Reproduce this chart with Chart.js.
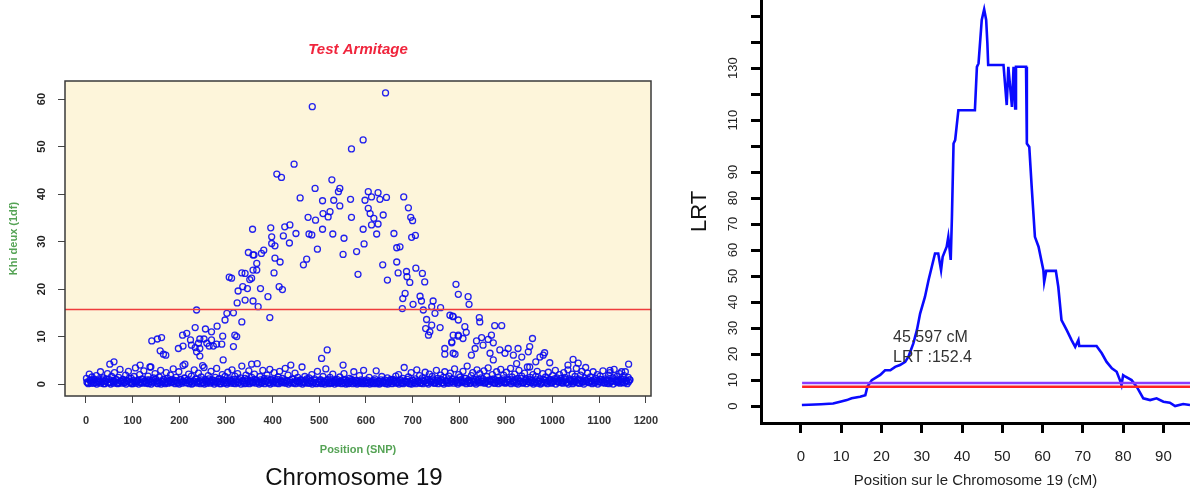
<!DOCTYPE html>
<html>
<head>
<meta charset="utf-8">
<script src="https://cdn.jsdelivr.net/npm/chart.js@4.4.1/dist/chart.umd.min.js"></script>
<style>
  html, body { margin: 0; padding: 0; background: #fff; }
  body { width: 1190px; height: 493px; position: relative; overflow: hidden; font-family: "Liberation Sans", Arial, sans-serif; }
  #leftBox { position: absolute; left: 0; top: 0; width: 680px; height: 493px; }
  #rightBox { position: absolute; left: 680px; top: 0; width: 510px; height: 493px; }
  #chromLabel { position: absolute; left: 254px; width: 200px; top: 463px; line-height: 28px; text-align: center; font-size: 24px; color: #111; }
</style>
</head>
<body>
<div id="leftBox"><canvas id="armitageChart" width="680" height="493"></canvas></div>
<div id="rightBox"><canvas id="lrtChart" width="510" height="493"></canvas></div>
<div id="chromLabel">Chromosome 19</div>
<script>
// --- left panel: Armitage test, one khi-deux value per SNP ---
// background SNPs, sampled every 3 SNPs starting at 1 (upper part of the band)
const baseStart = 1, baseStep = 3;
const baseKhi = [
  1.2,0.3,2.1,0.8,1.5,0.2,0.9,1.8,0.4,1.1,2.6,0.5,1.3,0.1,0.7,2.2,1.0,0.3,1.6,0.6,
  2.4,0.9,0.2,1.4,3.1,0.6,1.0,0.3,1.9,0.8,2.7,0.4,1.2,0.1,1.6,3.4,0.5,0.9,2.0,0.3,
  1.1,2.8,0.6,0.2,1.7,0.9,3.6,0.4,1.3,2.2,0.7,0.1,1.5,2.9,0.5,1.0,0.3,2.4,1.2,0.6,
  1.9,0.4,3.2,0.8,1.4,0.2,2.6,1.0,0.5,3.9,1.3,0.3,0.8,2.1,0.6,1.7,0.2,3.0,1.1,0.4,
  2.3,0.7,1.5,0.3,3.5,1.0,0.2,1.8,0.6,2.7,0.9,0.4,1.4,3.3,0.5,1.2,0.1,2.0,0.8,1.6,
  0.3,2.5,1.1,0.6,3.0,0.2,1.7,0.9,2.2,0.4,1.3,3.8,0.7,0.1,1.9,1.0,2.8,0.5,1.4,0.3,
  2.1,0.8,4.3,0.4,1.6,0.2,2.9,1.2,0.6,1.9,0.3,3.1,1.0,0.5,2.4,0.9,0.2,1.5,2.7,0.6,
  1.2,0.3,3.3,0.8,1.9,0.4,4.0,1.1,0.2,2.3,0.7,1.4,0.5,0.9,3.6,0.3,1.6,0.8,0.2,1.3,
  0.6,2.0,0.3,1.1,0.2,2.7,0.5,0.9,0.1,1.6,0.4,3.2,0.8,0.3,1.4,0.2,2.1,0.7,0.4,1.0,
  0.3,1.5,0.6,0.2,2.2,0.9,0.4,0.1,1.2,0.5,0.8,2.6,0.3,0.7,0.2,1.8,0.5,0.1,2.9,0.6,
  0.9,0.2,1.4,0.4,0.7,0.1,1.1,2.8,0.3,0.6,0.2,1.6,0.5,0.9,0.1,1.3,0.4,0.8,0.2,1.0,
  0.5,1.7,0.3,2.0,0.7,0.2,1.2,3.5,0.6,0.4,1.5,0.1,2.4,0.8,0.3,1.1,3.0,0.5,1.8,0.2,
  1.3,0.6,2.5,0.3,1.0,2.1,0.4,1.6,0.8,0.2,2.9,1.2,0.5,1.9,0.3,1.4,2.6,0.7,0.2,1.7,
  2.3,0.5,1.1,3.2,0.8,0.3,2.0,1.5,0.6,2.7,0.4,1.2,3.8,0.9,0.2,1.8,2.4,0.6,1.0,3.0,
  0.4,2.2,1.3,0.7,2.8,0.3,1.6,3.4,0.9,0.5,2.0,1.1,0.2,2.6,1.4,0.6,3.1,0.8,1.9,0.3,
  2.5,1.0,0.4,3.3,1.5,0.7,2.1,0.2,1.2,2.9,0.6,1.7,0.3,2.3,1.1,3.6,0.5,1.4,0.8,2.0,
  0.3,1.6,2.7,0.6,1.1,0.2,2.2,0.9,1.5,0.4,2.5,1.0,0.3,1.8,0.7,2.9,1.3,0.5,2.0,1.2,
  0.6,2.4,1.4,0.3,3.0,1.1,0.7,2.1,0.4,1.6,3.3,0.9,0.2,1.9,2.7,0.5,1.3,0.8,2.3,0.4,
  1.5,0.7,2.6,0.3,1.2,2.0,0.5,1.7,0.9,2.8,0.4,1.1,0.2,1.9,2.4,0.6,1.3,3.1,0.8,1.6,
  0.5,2.2,1.0,0.3,1.8,2.6,0.7,1.4,0.9
];
// background SNPs, sampled every 3 SNPs starting at 2 (dense floor of the band)
const floorStart = 2, floorStep = 3;
const floorKhi = [
  0.4,0.1,0.8,0.2,0.6,1.0,0.3,0.0,0.7,0.5,0.2,0.9,0.1,0.6,1.1,0.3,0.4,0.0,0.8,0.2,
  0.5,1.0,0.1,0.3,0.7,0.2,0.9,0.4,0.0,0.6,1.2,0.3,0.1,0.8,0.5,0.2,0.7,0.0,0.4,1.0,
  0.2,0.6,0.3,0.9,0.1,0.5,0.0,0.8,0.4,1.1,0.2,0.7,0.3,0.0,0.6,0.9,0.1,0.5,0.2,0.8,
  0.3,1.0,0.5,0.1,0.7,0.4,0.0,0.9,0.2,0.6,1.2,0.3,0.8,0.1,0.5,0.0,0.7,0.4,1.0,0.2,
  0.6,0.1,0.9,0.3,0.0,0.7,0.5,1.1,0.2,0.4,0.8,0.0,0.6,0.3,1.0,0.1,0.5,0.9,0.2,0.7,
  0.0,0.4,0.8,0.2,0.6,1.0,0.1,0.5,0.3,0.9,0.0,0.7,0.4,1.2,0.2,0.6,0.1,0.8,0.3,0.5,
  1.0,0.2,0.6,0.0,0.9,0.4,0.7,0.1,0.5,1.1,0.3,0.0,0.8,0.2,0.6,0.4,1.0,0.1,0.7,0.3,
  0.5,0.9,0.2,0.6,0.0,0.8,0.3,1.0,0.4,0.1,0.7,0.5,0.2,0.9,0.0,0.6,0.3,1.1,0.4,0.2,
  0.7,0.0,0.4,0.8,0.1,0.5,0.3,0.9,0.2,0.6,0.0,0.4,1.0,0.1,0.7,0.3,0.5,0.0,0.8,0.2,
  0.4,0.6,0.1,0.9,0.3,0.0,0.7,0.2,0.5,1.0,0.1,0.4,0.8,0.0,0.6,0.3,0.9,0.2,0.5,0.1,
  0.3,0.7,0.0,0.5,0.2,0.8,0.4,0.1,0.6,0.0,0.9,0.3,0.5,0.2,0.7,0.0,0.4,1.0,0.1,0.6,
  0.8,0.2,0.5,0.0,0.9,0.4,0.1,0.7,0.3,1.0,0.2,0.6,0.0,0.8,0.4,0.1,0.7,0.5,0.2,0.9,
  0.1,0.6,0.9,0.3,0.0,0.7,0.5,1.1,0.2,0.4,0.8,0.1,0.6,1.0,0.3,0.0,0.7,0.4,0.9,0.2,
  0.6,1.0,0.2,0.5,0.8,0.0,0.4,0.9,0.3,0.7,1.2,0.1,0.5,0.8,0.2,0.6,1.0,0.3,0.0,0.7,
  0.9,0.3,0.6,1.1,0.2,0.5,0.8,0.0,0.7,1.0,0.4,0.2,0.9,0.6,0.1,0.8,0.3,1.1,0.5,0.2,
  0.4,0.8,1.0,0.1,0.6,0.3,0.9,0.5,0.0,0.7,1.2,0.2,0.4,0.8,0.1,0.6,1.0,0.3,0.7,0.0,
  0.5,0.9,0.2,0.7,0.0,0.4,1.0,0.3,0.8,0.1,0.6,0.9,0.2,0.5,1.1,0.0,0.7,0.4,0.8,0.3,
  0.2,0.7,1.0,0.4,0.0,0.8,0.5,0.1,0.9,0.6,0.3,1.1,0.2,0.7,0.4,0.0,0.8,0.5,1.0,0.3,
  0.6,0.1,0.9,0.4,0.7,0.0,0.5,1.0,0.3,0.8,0.2,0.6,0.9,0.1,0.4,0.7,0.0,1.1,0.5,0.3,
  0.8,0.2,0.6,1.0,0.3,0.7,0.1,0.5,0.9
];
// SNPs standing out of the band (position, khi-deux)
const peakSnp = [
  51,60,116,137,141,153,159,162,166,171,198,207,208,212,216,224,226,234,234,237,
  237,241,244,244,244,250,253,256,259,264,269,269,273,280,281,291,293,294,298,302,
  307,312,316,316,319,323,324,326,334,334,336,341,341,346,348,351,355,355,357,358,
  358,358,360,366,366,369,374,376,381,390,394,396,398,398,403,405,405,409,414,416,
  419,421,423,426,436,437,446,450,459,466,473,476,478,484,485,491,492,496,505,507,
  507,508,517,519,523,527,529,531,541,544,544,551,551,553,567,569,569,580,583,594,
  594,596,598,605,605,609,612,612,617,623,626,626,630,636,637,642,644,646,660,666,
  666,669,673,678,679,681,684,687,688,691,694,696,698,700,701,706,707,716,719,721,
  723,726,728,730,734,737,741,741,744,748,759,760,769,769,780,784,784,786,787,787,
  787,791,793,798,798,798,798,808,812,815,819,821,826,834,837,843,844,848,851,862,
  866,869,873,873,876,887,891,898,905,916,923,926,934,948,951,951,957,964,973,980,
  983,994,1033,1044,1055,1071,1123,1148,1163
];
const peakKhi = [
  4.2,4.7,4.0,3.6,9.1,9.5,7.0,9.8,6.3,6.1,7.5,10.3,8.0,4.2,10.7,9.3,8.2,11.9,7.7,15.6,
  6.8,8.6,9.5,7.5,5.9,3.9,9.5,11.6,8.6,8.0,11.0,9.3,8.0,8.4,12.2,8.4,10.1,5.1,13.5,14.9,
  22.5,22.3,15.0,7.9,10.3,10.0,17.1,19.6,23.4,13.1,20.5,23.3,17.7,20.1,27.7,22.0,22.3,4.2,32.6,27.2,
  24.0,17.5,27.2,25.4,24.0,16.3,20.1,27.5,28.2,18.4,14.0,32.9,31.0,29.6,23.4,29.1,26.5,44.2,20.5,25.7,
  43.5,19.9,31.2,33.1,29.7,33.5,46.3,31.7,39.2,25.1,26.3,35.1,31.6,31.4,58.4,41.2,34.5,28.4,5.4,38.6,
  32.6,35.9,7.2,35.2,36.3,43.0,31.6,38.7,40.5,41.2,37.5,27.3,4.0,30.7,38.9,49.5,35.1,27.9,23.1,51.4,
  32.6,29.5,38.7,40.5,37.0,35.9,39.4,33.5,34.9,31.6,40.3,33.7,38.9,25.1,35.6,61.3,39.3,21.9,31.7,28.7,
  25.7,23.4,28.9,15.9,18.0,39.4,19.1,23.7,22.6,37.1,21.4,35.1,30.9,34.4,16.8,31.3,24.4,18.5,17.5,23.3,
  15.6,21.5,11.7,13.6,10.3,11.0,16.3,12.4,17.5,14.9,11.9,16.1,7.5,6.3,14.5,8.9,8.7,14.3,14.2,10.3,
  6.5,6.3,21.0,18.9,13.5,10.3,10.1,9.6,12.1,10.9,18.4,16.8,6.1,7.5,9.1,14.0,13.1,9.8,8.2,9.4,
  6.5,10.3,8.7,5.1,12.3,7.2,12.3,6.5,7.5,6.1,4.3,7.5,5.7,6.8,7.9,3.6,9.6,4.7,5.7,6.1,
  6.6,4.5,4.0,5.2,4.4,3.5,2.9,2.6,4.2
];
const armitageThreshold = 15.7;
const snpTicks = [0, 100, 200, 300, 400, 500, 600, 700, 800, 900, 1000, 1100, 1200];
const khiTicks = [0, 10, 20, 30, 40, 50, 60];

// --- right panel: LRT profile along chromosome 19 ---
const lrtPos = [
  0.25,2,5,8,10,11.4,12.6,14.7,16,16.5,17.6,19.7,20.9,22.2,23.4,24.6,25.9,26.7,27.9,28.8,
  29.6,30.8,31.7,32.5,33.3,34.1,34.8,35.2,36.2,36.6,37.2,37.5,37.9,38.3,39.1,43.2,43.7,44.1,44.9,45.5,
  46.0,46.3,46.5,50.3,51.1,51.5,52.4,52.8,53.2,53.4,55.9,56.1,56.7,57.3,58.1,59,60.2,60.4,60.9,63.3,
  63.9,64.7,66,67.2,68.1,68.9,69.1,73.4,74.7,75.9,77.2,78.4,79.2,79.6,80,80.6,82.1,83.4,85,86.7,
  88.3,90,91.6,92.9,94.9,96.6
];
const lrtVal = [
  0.4,0.5,0.7,1.0,1.8,2.3,3.0,3.6,4.2,7.4,10,12,13.8,13.8,15.1,15.8,17,19,24,29.2,
  35.6,42,48.5,53.6,58.7,58.7,52.3,57.4,61.3,65.1,56.2,72.8,101,102.3,113.8,113.8,130.5,131.8,148.5,152.6,
  148.5,139.5,131.2,131.2,115.8,130.5,115.1,130.5,114.5,130.5,130.5,101,99.7,84.3,65.1,61.3,52.3,47.8,52,52,
  45.9,33.1,29.2,25.4,22.8,25.4,23.1,23.1,20.3,17,14.5,13.2,10,8.1,11.9,11.3,10,7.4,3,2.3,
  3,1.7,1.3,0,0.8,0.4
];
const lrtThresholds = [8.85, 7.4];
const cmTicks = [0, 10, 20, 30, 40, 50, 60, 70, 80, 90];
const lrtTicks = [0, 10, 20, 30, 40, 50, 60, 70, 80, 90, 100, 110, 120, 130, 140, 150];
const lrtTickLabels = ['0','10','20','30','40','50','60','70','80','90','','110','','130','',''];
const peakNote = ['45.597 cM', 'LRT :152.4'];
const peakNoteAt = { x: 22.9, y: [26.5, 18.8] };

const FONT = '"Liberation Sans", Arial, sans-serif';

// pin axis sizes so the plot areas land where the original ones are
function pinAxis(width, height) {
  return scale => {
    if (width != null) scale.width = width;
    if (height != null) scale.height = height;
    scale.paddingLeft = scale.paddingRight = scale.paddingTop = scale.paddingBottom = 0;
  };
}

function setTicks(values) {
  return scale => { scale.ticks = values.map(v => ({ value: v })); };
}

const plotBox = {
  id: 'plotBox',
  beforeDatasetsDraw(chart, args, opts) {
    const { ctx, chartArea: a } = chart;
    ctx.save();
    ctx.fillStyle = opts.fill;
    ctx.fillRect(a.left, a.top, a.right - a.left, a.bottom - a.top);
    ctx.restore();
  },
  afterDraw(chart, args, opts) {
    const { ctx, chartArea: a } = chart;
    ctx.save();
    ctx.strokeStyle = opts.stroke;
    ctx.lineWidth = 1.5;
    ctx.strokeRect(a.left, a.top, a.right - a.left, a.bottom - a.top);
    ctx.restore();
  }
};

const armitagePoints = [];
baseKhi.forEach((v, i) => armitagePoints.push({ x: baseStart + baseStep * i, y: v }));
floorKhi.forEach((v, i) => armitagePoints.push({ x: floorStart + floorStep * i, y: v }));
peakSnp.forEach((p, i) => armitagePoints.push({ x: p, y: peakKhi[i] }));

new Chart(document.getElementById('armitageChart'), {
  type: 'scatter',
  data: {
    datasets: [
      {
        data: [{ x: -45, y: armitageThreshold }, { x: 1211, y: armitageThreshold }],
        showLine: true, borderColor: '#ef3b3b', borderWidth: 1.6, pointRadius: 0
      },
      {
        data: armitagePoints,
        pointRadius: 3, borderWidth: 1.3,
        pointBorderColor: 'rgba(10,10,240,0.9)', pointBackgroundColor: 'rgba(0,0,0,0)'
      }
    ]
  },
  options: {
    responsive: false, animation: false, devicePixelRatio: 1, events: [],
    layout: { padding: { left: 0, right: 29, top: 0, bottom: 0 } },
    scales: {
      x: {
        type: 'linear', min: -45, max: 1211,
        afterBuildTicks: setTicks(snpTicks), afterFit: pinAxis(null, 97),
        border: { display: false },
        grid: { drawOnChartArea: false, tickLength: 7, tickColor: '#444' },
        ticks: { color: '#333', padding: 11, callback: v => String(v),
          font: { family: FONT, size: 11, weight: 'bold' } },
        title: { display: true, text: 'Position (SNP)', color: '#55a355',
          padding: { top: 0, bottom: 36 }, font: { family: FONT, size: 11, weight: 'bold' } }
      },
      y: {
        type: 'linear', min: -2.5, max: 63.8,
        afterBuildTicks: setTicks(khiTicks), afterFit: pinAxis(65, null),
        border: { display: false },
        grid: { drawOnChartArea: false, tickLength: 7, tickColor: '#444' },
        ticks: { color: '#222', padding: 10, minRotation: 90, maxRotation: 90, crossAlign: 'center',
          callback: v => String(v), font: { family: FONT, size: 11, weight: 'bold' } },
        title: { display: true, text: 'Khi deux (1df)', color: '#55a355',
          padding: { top: 7, bottom: 0 }, font: { family: FONT, size: 11, weight: 'bold' } }
      }
    },
    plugins: {
      legend: { display: false },
      tooltip: { enabled: false },
      title: {
        display: true, text: 'Test Armitage', color: '#f0243c', fullSize: false,
        font: { family: FONT, size: 15, style: 'italic', weight: 'bold' },
        padding: { top: 41, bottom: 22 }
      },
      plotBox: { fill: '#fdf5da', stroke: '#3a3a3a' }
    }
  },
  plugins: [plotBox]
});

const peakLabel = {
  id: 'peakLabel',
  afterDatasetsDraw(chart) {
    const { ctx, scales: { x, y } } = chart;
    ctx.save();
    ctx.fillStyle = '#333';
    ctx.font = '16px ' + FONT;
    ctx.textAlign = 'left';
    ctx.textBaseline = 'middle';
    peakNote.forEach((t, i) => ctx.fillText(t, x.getPixelForValue(peakNoteAt.x), y.getPixelForValue(peakNoteAt.y[i])));
    ctx.restore();
  }
};

new Chart(document.getElementById('lrtChart'), {
  type: 'scatter',
  data: {
    datasets: [
      {
        data: [{ x: 0.3, y: lrtThresholds[1] }, { x: 100, y: lrtThresholds[1] }],
        showLine: true, borderColor: '#ff2222', borderWidth: 2.5, pointRadius: 0
      },
      {
        data: [{ x: 0.3, y: lrtThresholds[0] }, { x: 100, y: lrtThresholds[0] }],
        showLine: true, borderColor: '#8a3cff', borderWidth: 2.5, pointRadius: 0
      },
      {
        data: lrtPos.map((p, i) => ({ x: p, y: lrtVal[i] })),
        showLine: true, borderColor: '#0a0aff', borderWidth: 2.6, pointRadius: 0, tension: 0
      }
    ]
  },
  options: {
    responsive: false, animation: false, devicePixelRatio: 1, events: [],
    layout: { padding: 0 },
    scales: {
      x: {
        type: 'linear', min: -9.9, max: 96.6,
        afterBuildTicks: setTicks(cmTicks), afterFit: pinAxis(null, 70),
        border: { display: true, color: '#000', width: 3 },
        grid: { drawOnChartArea: false, tickLength: 10, tickWidth: 3, tickColor: '#000' },
        ticks: { color: '#222', padding: 15, maxRotation: 0, font: { family: FONT, size: 15 } },
        title: { display: true, text: 'Position sur le Chromosome 19 (cM)', color: '#222',
          padding: { top: 0, bottom: 3 }, font: { family: FONT, size: 15 } }
      },
      y: {
        type: 'linear', min: -6.5, max: 156.2,
        afterBuildTicks: setTicks(lrtTicks), afterFit: pinAxis(81, null),
        border: { display: true, color: '#000', width: 3 },
        grid: { drawOnChartArea: false, tickLength: 10, tickWidth: 3, tickColor: '#000' },
        ticks: {
          color: '#222', padding: 7, minRotation: 90, maxRotation: 90, crossAlign: 'center',
          font: { family: FONT, size: 13 },
          callback: (v, i) => lrtTickLabels[i]
        },
        title: { display: true, text: 'LRT', color: '#111',
          padding: { top: 7, bottom: 0 }, font: { family: FONT, size: 22 } }
      }
    },
    plugins: { legend: { display: false }, tooltip: { enabled: false } }
  },
  plugins: [peakLabel]
});
</script>
</body>
</html>
